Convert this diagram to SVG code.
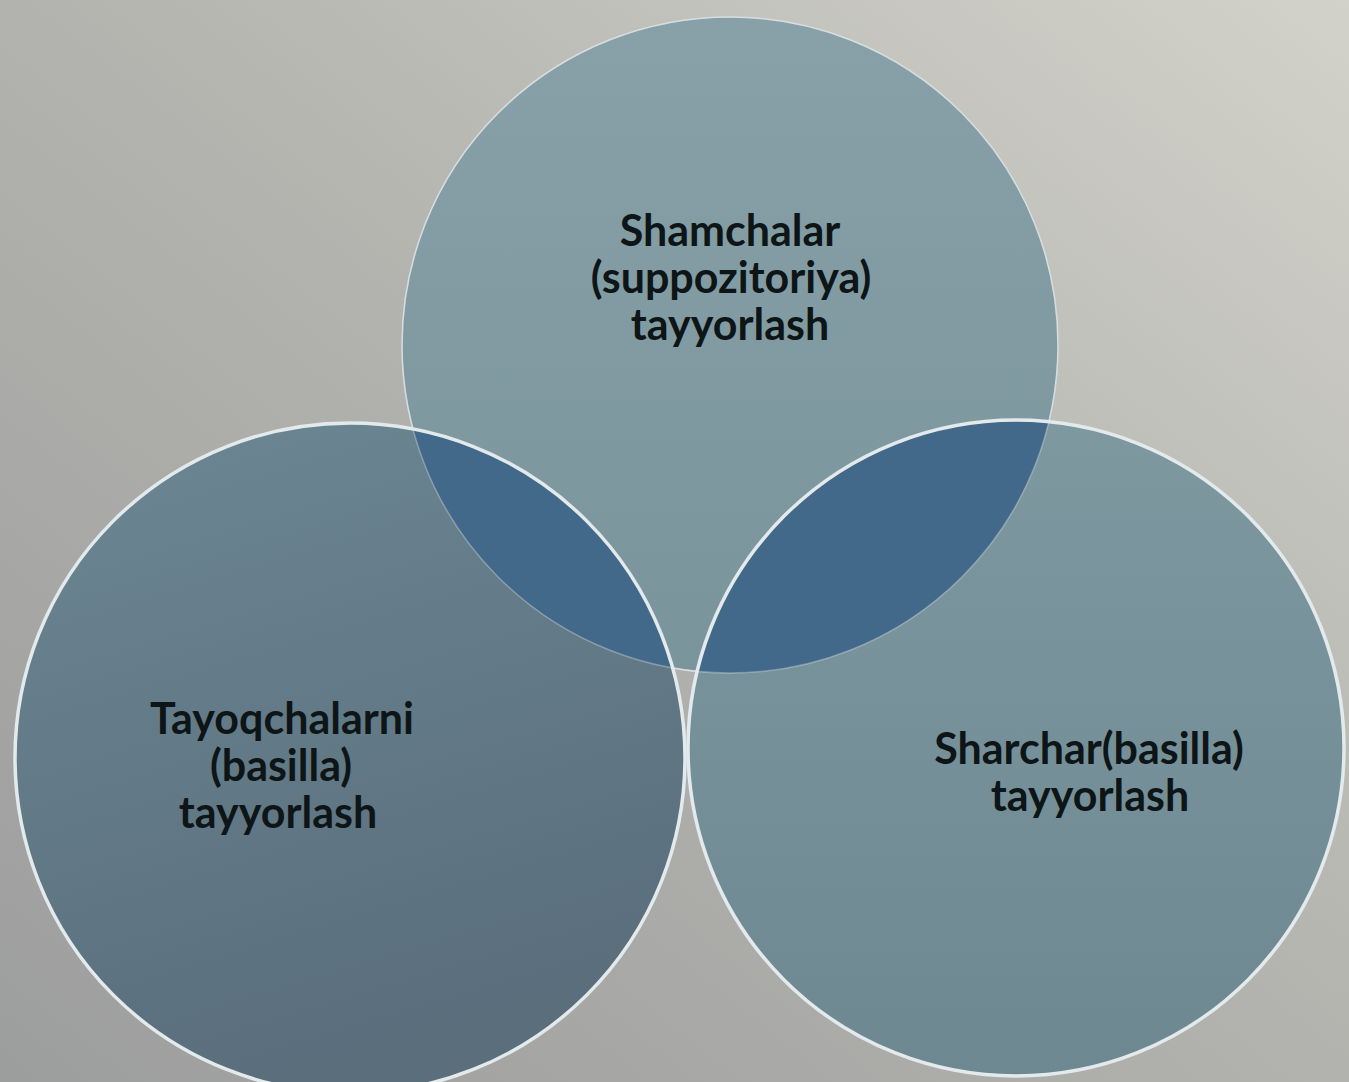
<svg xmlns="http://www.w3.org/2000/svg" width="1349" height="1082" viewBox="0 0 1349 1082">
  <defs>
    <linearGradient id="bg" x1="0" y1="1" x2="1" y2="0">
      <stop offset="0" stop-color="#9c9d9d"/>
      <stop offset="0.5" stop-color="#b2b2ae"/>
      <stop offset="1" stop-color="#d2d2ca"/>
    </linearGradient>
    <linearGradient id="gTop" x1="0" y1="0" x2="0" y2="1">
      <stop offset="0" stop-color="#88a1a8"/>
      <stop offset="1" stop-color="#7a949c"/>
    </linearGradient>
    <linearGradient id="gLeft" x1="0" y1="0" x2="0.3" y2="1">
      <stop offset="0" stop-color="#6c8793"/>
      <stop offset="1" stop-color="#5a6e7c"/>
    </linearGradient>
    <linearGradient id="gRight" x1="0" y1="0" x2="0" y2="1">
      <stop offset="0" stop-color="#7e98a0"/>
      <stop offset="1" stop-color="#6e8892"/>
    </linearGradient>
    <clipPath id="clipTop">
      <circle cx="730" cy="345" r="328"/>
    </clipPath>
    <style>
      .lbl { font-family: Lato, "Open Sans", "Liberation Sans", sans-serif; font-weight: 700; font-size: 43px; fill: #0d1517; text-anchor: middle; }
      .edge { fill: none; stroke: #e2eaec; stroke-width: 3.5; }
      .lens { fill: #43698a; }
    </style>
  </defs>

  <rect x="0" y="0" width="1349" height="1082" fill="url(#bg)"/>

  <g id="node-top">
    <circle cx="730" cy="345" r="328" fill="url(#gTop)" stroke="#c4cfd2" stroke-width="1.5"/>
  </g>
  <g id="node-left">
    <circle cx="350" cy="758" r="335" fill="url(#gLeft)"/>
  </g>
  <g id="node-right">
    <circle cx="1016" cy="748" r="328" fill="url(#gRight)"/>
  </g>

  <g id="overlaps" clip-path="url(#clipTop)">
    <circle class="lens" cx="350" cy="758" r="335"/>
    <circle class="lens" cx="1016" cy="748" r="328"/>
  </g>

  <g id="outlines">
    <circle cx="730" cy="345" r="328" fill="none" stroke="#ffffff" stroke-opacity="0.3" stroke-width="1.5"/>
    <circle class="edge" cx="350" cy="758" r="335"/>
    <circle class="edge" cx="1016" cy="748" r="328"/>
  </g>

  <g id="labels">
    <text class="lbl" x="730" y="246">Shamchalar<tspan x="731" dy="47">(suppozitoriya)</tspan><tspan x="730" dy="47">tayyorlash</tspan></text>
    <text class="lbl" x="282" y="734">Tayoqchalarni<tspan x="281" dy="47">(basilla)</tspan><tspan x="278" dy="47">tayyorlash</tspan></text>
    <text class="lbl" x="1089" y="764">Sharchar(basilla)<tspan x="1090" dy="47">tayyorlash</tspan></text>
  </g>
</svg>
